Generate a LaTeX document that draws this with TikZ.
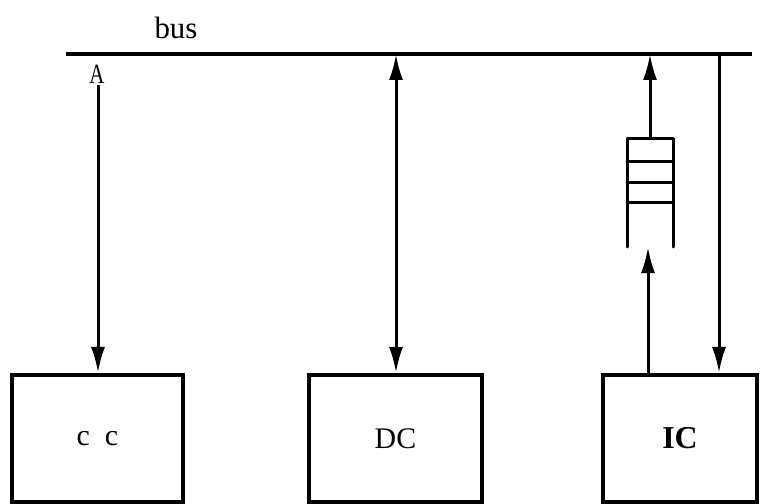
\documentclass[tikz,border=0pt]{standalone}
\usepackage{fontspec}
\setmainfont{Liberation Serif}
\usetikzlibrary{arrows.meta}
\begin{document}
\begin{tikzpicture}[x=1bp,y=-1bp,
  unit/.style={draw,line width=4bp,minimum height=127bp,inner sep=0pt,font=\fontsize{30}{32}\selectfont},
  link/.style={line width=3bp,-{Latex[length=26bp,width=14bp]}},
  dlink/.style={line width=3bp,{Latex[length=26bp,width=14bp]}-{Latex[length=26bp,width=14bp]}},
  busline/.style={line width=4bp},
  fifo/.style={line width=3bp,line cap=round,line join=round}]
\useasboundingbox (0,0) rectangle (765,504);

% bus
\coordinate (busL) at (66,54);
\coordinate (busR) at (752,54);
\draw[busline] (busL) -- (busR);
\node[font=\fontsize{31}{33}\selectfont] (buslabel) at (176,28) {bus};

% units
\node[unit,minimum width=171bp] (cc) at (97.5,438.5) {c\hspace{15bp}c};
\node[unit,minimum width=173bp] (dc) at (395.5,438.5) {DC};
\node[unit,minimum width=154bp,font=\fontsize{32}{34}\selectfont\bfseries] (ic) at (680,438.5) {IC};

% first unit: link from below the bus
\coordinate (a1) at (98,85);
\node[font=\fontsize{28}{30}\selectfont,inner sep=0pt,anchor=south,xscale=0.75] (alabel) at (97,84) {A};
\draw[link] (a1) -- (a1 |- cc.north);

% second unit: two-way link
\coordinate (d1) at (396,54);
\draw[dlink] (d1 |- dc.north) -- (d1);

% third unit: queue feeding the bus, direct link from the bus
\coordinate (qtop) at (650,139);
\coordinate (qin) at (648,247);
\coordinate (i2) at (719,54);
\draw[fifo] (627,247) -- (627,139) -- (673,139) -- (673,247);
\draw[fifo] (627,162) -- (673,162);
\draw[fifo] (627,183) -- (673,183);
\draw[fifo] (627,203) -- (673,203);
\draw[link] (qtop) -- (qtop |- busL);
\draw[link] (qin |- ic.north) -- (qin);
\draw[link] (i2) -- (i2 |- ic.north);
\end{tikzpicture}
\end{document}
